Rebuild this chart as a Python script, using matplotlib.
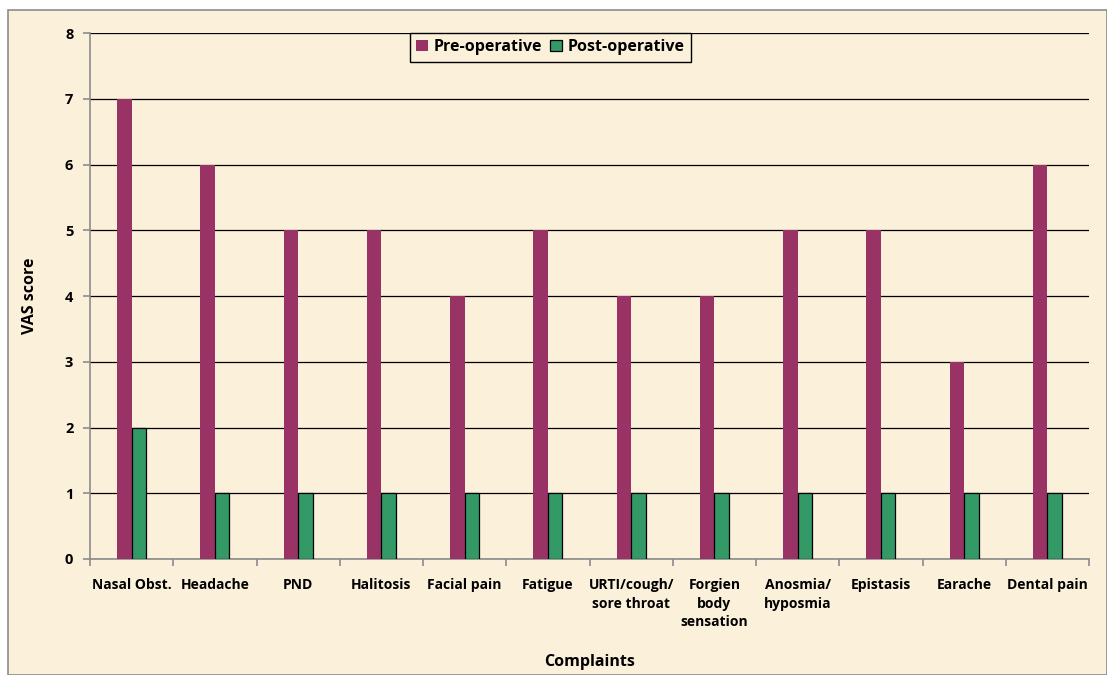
import numpy as np
import matplotlib.pyplot as plt
from matplotlib.patches import Rectangle

# VAS scores per complaint
complaints = ['Nasal Obst.', 'Headache', 'PND', 'Halitosis', 'Facial pain',
              'Fatigue', 'URTI/cough/\nsore throat', 'Forgien\nbody\nsensation',
              'Anosmia/\nhyposmia', 'Epistasis', 'Earache', 'Dental pain']
pre_op = [7, 6, 5, 5, 4, 5, 4, 4, 5, 5, 3, 6]
post_op = [2, 1, 1, 1, 1, 1, 1, 1, 1, 1, 1, 1]

bg = '#FBF0DA'
plt.rcParams['font.family'] = ['Open Sans', 'DejaVu Sans']

fig = plt.figure(figsize=(11.07, 6.75), dpi=100, facecolor='white')
# parchment panel with grey frame
fig.patches.append(Rectangle((8 / 1107, 0), 1 - 8 / 1107, 1 - 10 / 675,
                             transform=fig.transFigure, facecolor=bg,
                             edgecolor='#8C8C8C', linewidth=1.2, zorder=-10))

ax = fig.add_axes([90 / 1107, 116 / 675, 999 / 1107, 526 / 675])
ax.set_facecolor('none')

x = np.arange(len(complaints))
w = 0.175
ax.bar(x - w / 2, pre_op, w, color='#993366', label='Pre-operative', zorder=3)
ax.bar(x + w / 2, post_op, w, color='#339966', edgecolor='black', linewidth=0.9,
       label='Post-operative', zorder=3)

ax.set_xlim(-0.5, len(complaints) - 0.5)
ax.set_ylim(0, 8)
ax.set_yticks(range(0, 9))
ax.yaxis.grid(True, color='black', linewidth=0.9)
ax.set_axisbelow(True)

for s in ['top', 'right']:
    ax.spines[s].set_visible(False)
for s in ['left', 'bottom']:
    ax.spines[s].set_color('#8C8C8C')
    ax.spines[s].set_linewidth(1.2)

ax.set_xticks(x)
ax.set_xticklabels(complaints, fontsize=10, fontweight='bold', linespacing=1.4,
                   verticalalignment='top')
ax.tick_params(axis='x', which='major', length=0, pad=14)
ax.set_xticks(np.arange(-0.5, len(complaints)), minor=True)
ax.tick_params(axis='x', which='minor', length=5, color='#8C8C8C', width=1.2)
ax.tick_params(axis='y', length=5, color='#8C8C8C', width=1.2, labelsize=10.5, pad=7)
for t in ax.get_yticklabels():
    t.set_fontweight('bold')

fig.text(30 / 1107, 1 - 296 / 675, 'VAS score', rotation=90, fontsize=11.5,
         fontweight='bold', ha='center', va='center')
fig.text(590 / 1107, 1 - 662 / 675, 'Complaints', fontsize=11.5,
         fontweight='bold', ha='center', va='center')

leg = ax.legend(loc='upper left', bbox_to_anchor=((410 - 90) / 999, 1.0),
                ncol=2, frameon=True, fancybox=False,
                prop={'weight': 'bold', 'size': 11.5}, handlelength=0.7,
                handleheight=0.7, handletextpad=0.4, columnspacing=0.5,
                borderpad=0.4, borderaxespad=0)
leg.get_frame().set_facecolor(bg)
leg.get_frame().set_edgecolor('black')
leg.get_frame().set_alpha(1)
leg.get_frame().set_linewidth(1)

fig.savefig('out.png', dpi=100, facecolor='white')
